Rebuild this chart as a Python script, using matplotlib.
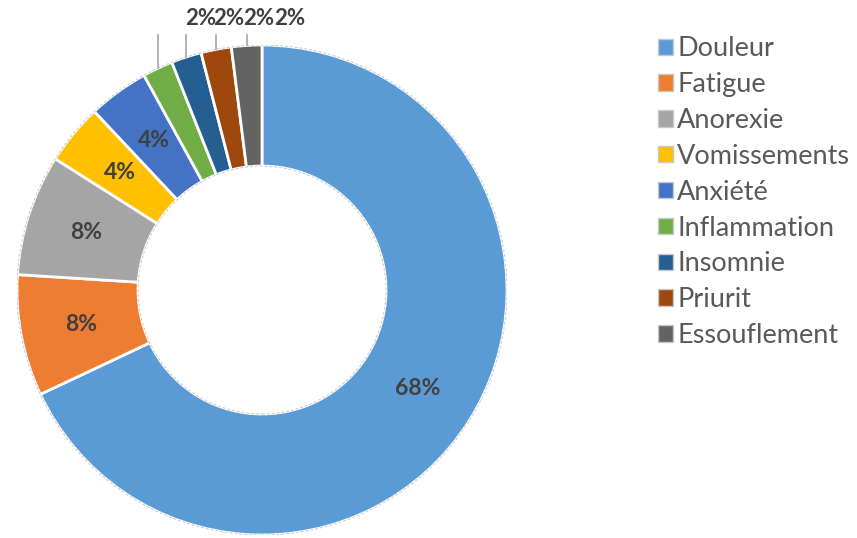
import matplotlib.pyplot as plt
import numpy as np
from matplotlib.patches import Circle, Patch

plt.rcParams["font.family"] = ["Lato", "DejaVu Sans"]

symptoms = ["Douleur", "Fatigue", "Anorexie", "Vomissements", "Anxiété",
            "Inflammation", "Insomnie", "Priurit", "Essouflement"]
percents = [68, 8, 8, 4, 4, 2, 2, 2, 2]
colors = ["#5B9BD5", "#ED7D31", "#A5A5A5", "#FFC000", "#4472C4",
          "#70AD47", "#255E91", "#9E480E", "#636363"]

W, H = 857, 538
fig = plt.figure(figsize=(W / 100, H / 100), dpi=100)
# square axes holding the ring (radius 1 in data units)
ax = fig.add_axes([17 / W, 3 / H, 490 / W, 490 / H])

inner = 0.506
wedges, _ = ax.pie(percents, colors=colors, startangle=90, counterclock=False,
                   radius=1, wedgeprops=dict(width=1 - inner, edgecolor="white", linewidth=2))
ax.set_xlim(-1, 1)
ax.set_ylim(-1, 1)
ax.set_aspect("equal")
ax.axis("off")

for r in (1.0, inner):
    ax.add_patch(Circle((0, 0), r, fill=False, ls=(0, (3, 2)), lw=0.7, ec="#c8c8c8"))

label_color = "#404040"
for w, p in zip(wedges, percents):
    mid = np.deg2rad((w.theta1 + w.theta2) / 2)
    if p > 2:
        rr = (1 + inner) / 2
        ax.text(rr * np.cos(mid), rr * np.sin(mid), f"{p}%", ha="center", va="center",
                fontsize=16.5, fontweight="bold", color=label_color)
    else:
        x0, y0 = np.cos(mid), np.sin(mid)
        ax.plot([x0, x0], [y0, 1.04], color="#a6a6a6", lw=1.2, clip_on=False)
        ax.text(x0 + 0.175, 1.11, f"{p}%", ha="center", va="center", fontsize=16,
                fontweight="bold", color=label_color, clip_on=False)

handles = [Patch(facecolor=c, edgecolor="#c8c8c8", linewidth=1) for c in colors]
fig.legend(handles, symptoms, loc="upper left", bbox_to_anchor=(634 / W, 1 - 12 / H),
           frameon=False, fontsize=19.5, handlelength=0.55, handleheight=0.55,
           handletextpad=0.15, labelspacing=0.4, labelcolor="#595959")

fig.savefig("out.png", dpi=100)
